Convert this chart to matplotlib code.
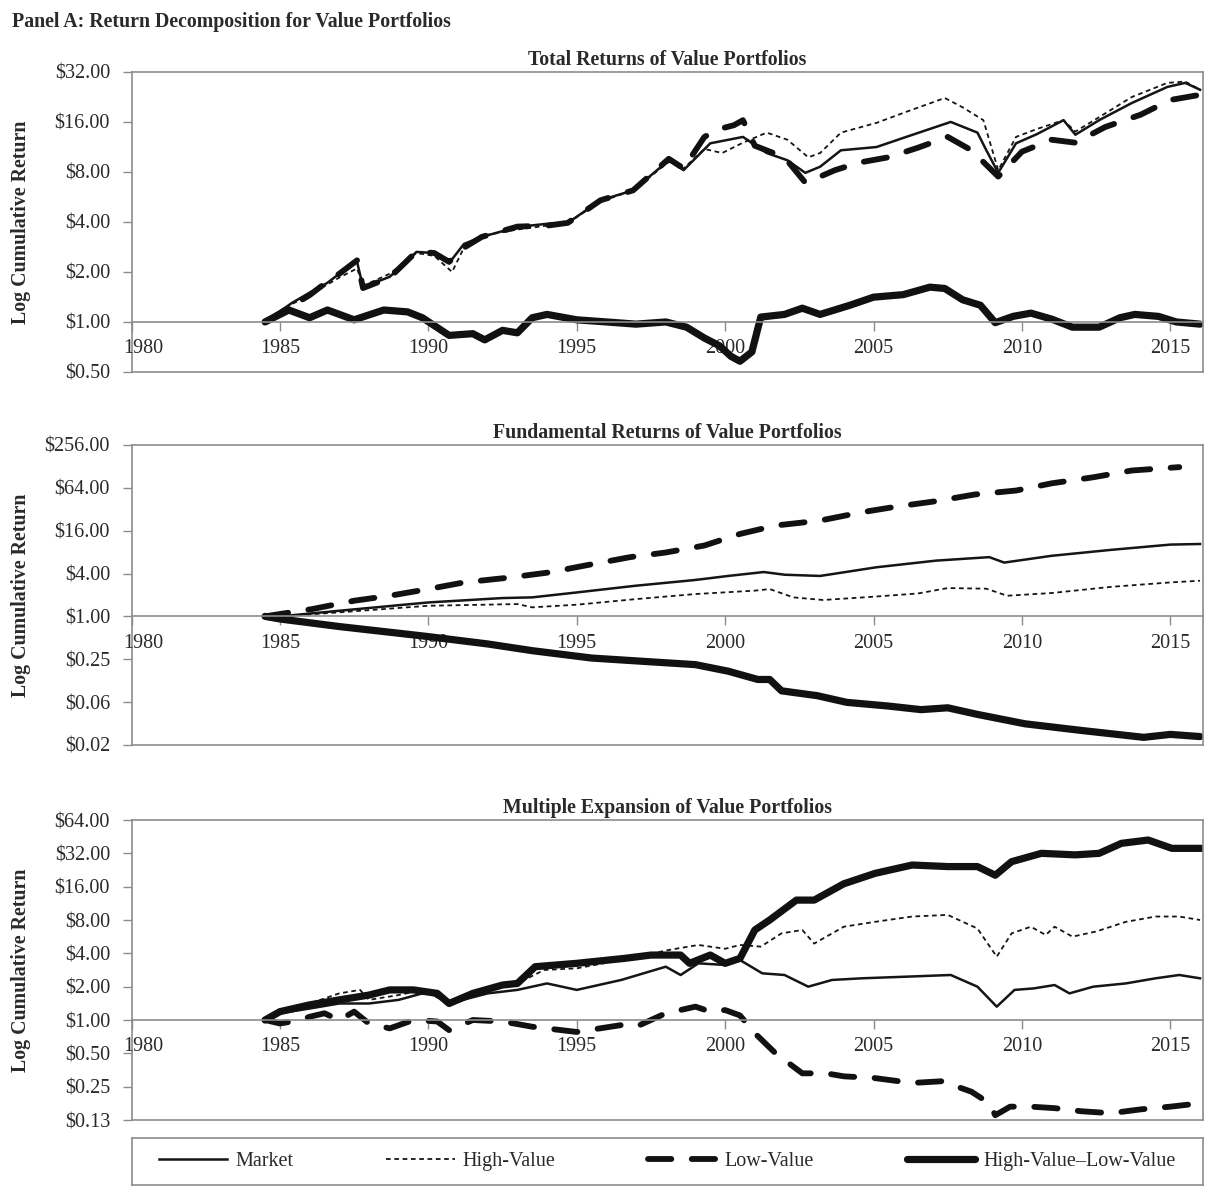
import matplotlib
matplotlib.use('Agg')
import matplotlib.pyplot as plt
from matplotlib.lines import Line2D

plt.rcParams['font.family'] = ['Liberation Serif', 'DejaVu Serif']

# ---- Total returns (panel 1) ----
tot_mkt_x = [1984.5, 1985.4, 1986.0, 1986.6, 1987.0, 1987.6, 1987.8, 1988.7, 1989.6, 1990.2, 1990.7,
             1991.2, 1991.8, 1993.0, 1994.0, 1994.7, 1995.8, 1996.9, 1998.1, 1998.6, 1999.5, 2000.6,
             2001.4, 2002.1, 2002.7, 2003.2, 2003.9, 2005.1, 2006.1, 2007.6, 2008.5, 2008.8, 2009.2,
             2009.8, 2010.5, 2011.4, 2011.8, 2012.6, 2013.7, 2014.9, 2015.5, 2016.0]
tot_mkt_y = [1.0, 1.30, 1.5, 1.72, 1.95, 2.30, 1.62, 1.87, 2.64, 2.6, 2.26,
             2.95, 3.25, 3.73, 3.9, 3.95, 5.4, 6.2, 9.4, 8.2, 11.9, 13.0,
             10.4, 9.4, 7.9, 8.6, 10.8, 11.3, 13.0, 16.0, 13.8, 10.8, 7.9,
             11.9, 13.5, 16.4, 13.4, 16.4, 20.8, 26.0, 27.5, 25.0]

tot_hv_x = [1984.5, 1985.4, 1986.0, 1986.6, 1987.0, 1987.6, 1987.8, 1988.7, 1989.6, 1990.2, 1990.8,
            1991.2, 1991.8, 1993.0, 1994.0, 1994.7, 1995.8, 1996.9, 1998.1, 1998.6, 1999.3, 1999.9,
            2000.6, 2001.4, 2002.1, 2002.8, 2003.2, 2003.9, 2005.1, 2006.1, 2007.4, 2008.0, 2008.7,
            2009.2, 2009.8, 2010.5, 2011.4, 2011.8, 2012.6, 2013.7, 2014.9, 2015.5, 2016.0]
tot_hv_y = [1.0, 1.28, 1.45, 1.68, 1.85, 2.1, 1.65, 1.95, 2.6, 2.5, 2.0,
            2.8, 3.3, 3.6, 3.8, 3.95, 5.3, 6.2, 9.2, 8.4, 11.0, 10.4,
            12.0, 13.8, 12.5, 9.8, 10.4, 13.8, 15.8, 18.4, 22.3, 19.6, 16.4,
            8.2, 13.0, 14.5, 16.4, 14.0, 17.1, 22.6, 27.5, 28.0, 25.0]

tot_lv_x = [1984.5, 1985.4, 1986.0, 1986.6, 1987.0, 1987.6, 1987.8, 1988.7, 1989.6, 1990.2, 1990.7,
            1991.2, 1991.8, 1993.0, 1994.0, 1994.7, 1995.8, 1996.9, 1998.1, 1998.6, 1999.3, 1999.8,
            2000.3, 2000.6, 2001.0, 2002.0, 2002.7, 2003.2, 2003.7, 2004.5, 2005.5, 2006.5, 2007.5,
            2008.3, 2009.2, 2010.0, 2011.0, 2011.8, 2012.8, 2014.0, 2015.0, 2016.0]
tot_lv_y = [1.0, 1.25, 1.45, 1.75, 1.95, 2.35, 1.6, 1.85, 2.65, 2.6, 2.3,
            2.8, 3.25, 3.75, 3.8, 3.95, 5.4, 6.2, 9.6, 8.4, 13.0, 14.5,
            15.3, 16.4, 11.5, 9.8, 6.9, 7.5, 8.2, 9.1, 9.8, 11.2, 13.0,
            10.8, 7.5, 10.6, 12.5, 12.0, 14.9, 17.7, 21.7, 23.3]

tot_hml_x = [1984.5, 1985.3, 1986.0, 1986.6, 1987.5, 1988.5, 1989.3, 1989.8, 1990.7, 1991.5, 1991.9,
             1992.5, 1993.0, 1993.5, 1994.0, 1995.0, 1996.0, 1997.0, 1998.0, 1998.7, 1999.3, 1999.8,
             2000.2, 2000.5, 2000.9, 2001.2, 2002.0, 2002.6, 2003.2, 2004.2, 2005.0, 2006.0, 2006.9,
             2007.4, 2008.0, 2008.6, 2009.1, 2009.7, 2010.3, 2011.0, 2011.7, 2012.6, 2013.3, 2013.8,
             2014.6, 2015.2, 2016.0]
tot_hml_y = [1.0, 1.18, 1.06, 1.18, 1.03, 1.18, 1.15, 1.06, 0.83, 0.85, 0.78,
             0.89, 0.86, 1.06, 1.11, 1.03, 1.0, 0.97, 1.0, 0.93, 0.8, 0.72,
             0.62, 0.58, 0.66, 1.07, 1.11, 1.21, 1.11, 1.26, 1.41, 1.46, 1.62,
             1.59, 1.36, 1.26, 0.99, 1.08, 1.13, 1.04, 0.93, 0.93, 1.06, 1.11,
             1.08, 1.0, 0.97]

# ---- Fundamental returns (panel 2) ----
fund_mkt_x = [1984.5, 1985.0, 1987.0, 1990.0, 1992.5, 1993.5, 1995.0, 1997.0, 1999.0, 2000.1, 2001.3,
              2002.0, 2003.2, 2005.1, 2007.1, 2008.9, 2009.4, 2011.0, 2013.0, 2015.0, 2016.0]
fund_mkt_y = [1.0, 1.0, 1.2, 1.57, 1.81, 1.85, 2.17, 2.7, 3.25, 3.7, 4.2,
              3.85, 3.7, 4.9, 6.07, 6.8, 5.7, 7.1, 8.6, 10.2, 10.4]

fund_hv_x = [1984.5, 1985.0, 1987.0, 1990.0, 1993.0, 1993.5, 1995.0, 1997.0, 1999.0, 2001.0, 2001.5,
             2002.3, 2003.3, 2005.0, 2006.5, 2007.5, 2008.8, 2009.5, 2011.0, 2013.0, 2015.0, 2016.0]
fund_hv_y = [1.0, 1.0, 1.14, 1.41, 1.49, 1.34, 1.46, 1.75, 2.06, 2.3, 2.42,
             1.85, 1.7, 1.89, 2.1, 2.5, 2.45, 1.95, 2.13, 2.6, 3.0, 3.17]

fund_lv_x = [1984.5, 1985.0, 1986.1, 1987.5, 1988.7, 1990.0, 1991.2, 1992.7, 1994.1, 1995.3, 1996.8,
             1998.0, 1999.3, 2000.5, 2001.7, 2003.2, 2004.6, 2005.8, 2007.1, 2008.4, 2009.8, 2011.0,
             2012.4, 2013.7, 2015.3]
fund_lv_y = [1.0, 1.08, 1.27, 1.66, 1.95, 2.42, 3.0, 3.5, 4.16, 5.2, 6.8,
             7.9, 9.9, 14.4, 18.9, 22.2, 29, 35, 41.5, 51.5, 58.6, 74,
             90, 112, 125]

fund_hml_x = [1984.5, 1985.0, 1987.0, 1989.0, 1990.0, 1992.0, 1993.5, 1995.5, 1997.5, 1999.0, 2000.1,
              2001.1, 2001.5, 2001.9, 2003.1, 2004.1, 2005.5, 2006.6, 2007.5, 2008.5, 2010.1, 2012.0,
              2014.1, 2015.0, 2016.0]
fund_hml_y = [1.0, 0.92, 0.72, 0.58, 0.52, 0.41, 0.33, 0.26, 0.23, 0.21, 0.17,
              0.13, 0.13, 0.09, 0.077, 0.062, 0.055, 0.049, 0.052, 0.042, 0.031, 0.025,
              0.020, 0.022, 0.0205]

# ---- Multiple expansion (panel 3) ----
me_mkt_x = [1984.5, 1985.0, 1986.0, 1987.0, 1988.0, 1989.0, 1990.0, 1990.7, 1992.0, 1993.0, 1994.0,
            1995.0, 1996.5, 1998.0, 1998.5, 1999.1, 2000.0, 2000.5, 2001.25, 2002.0, 2002.8, 2003.6,
            2004.6, 2006.05, 2007.6, 2008.5, 2009.15, 2009.75, 2010.4, 2011.1, 2011.6, 2012.4, 2013.5,
            2014.5, 2015.3, 2016.0]
me_mkt_y = [1.0, 1.15, 1.27, 1.41, 1.41, 1.52, 1.8, 1.41, 1.74, 1.87, 2.14,
            1.87, 2.3, 3.03, 2.55, 3.25, 3.14, 3.48, 2.64, 2.55, 2.0, 2.3,
            2.38, 2.46, 2.55, 2.0, 1.32, 1.87, 1.93, 2.07, 1.74, 2.0, 2.14,
            2.38, 2.55, 2.38]

me_hv_x = [1984.5, 1985.0, 1986.0, 1987.0, 1987.7, 1988.0, 1989.0, 1989.8, 1990.7, 1992.0, 1993.0,
           1993.9, 1995.0, 1996.5, 1998.1, 1999.1, 2000.0, 2000.5, 2001.2, 2001.9, 2002.6, 2003.0,
           2004.0, 2005.05, 2006.3, 2007.5, 2008.5, 2009.15, 2009.65, 2010.3, 2010.8, 2011.1, 2011.7,
           2012.5, 2013.5, 2014.5, 2015.3, 2016.0]
me_hv_y = [1.0, 1.19, 1.41, 1.74, 1.87, 1.52, 1.68, 1.87, 1.41, 1.93, 2.14,
           2.83, 2.93, 3.48, 4.29, 4.76, 4.4, 4.76, 4.6, 6.06, 6.5, 4.9,
           6.96, 7.7, 8.6, 8.9, 6.7, 3.73, 6.06, 6.96, 5.86, 6.96, 5.66,
           6.3, 7.7, 8.6, 8.6, 8.0]

me_lv_x = [1984.5, 1985.0, 1985.7, 1986.0, 1986.5, 1987.0, 1987.5, 1988.0, 1988.7, 1989.5, 1990.3,
           1990.7, 1991.5, 1992.5, 1993.5, 1995.0, 1996.5, 1997.0, 1998.0, 1999.0, 1999.5, 2000.0,
           2000.5, 2001.0, 2001.7, 2002.6, 2003.4, 2004.0, 2005.0, 2006.3, 2007.3, 2008.3, 2008.9,
           2009.1, 2009.6, 2010.3, 2011.1, 2012.0, 2013.0, 2014.0, 2015.0, 2016.0]
me_lv_y = [1.0, 0.93, 1.0, 1.07, 1.15, 1.0, 1.19, 0.93, 0.84, 1.0, 0.97,
           0.81, 1.0, 0.97, 0.87, 0.78, 0.9, 0.87, 1.15, 1.32, 1.19, 1.23,
           1.1, 0.76, 0.5, 0.33, 0.33, 0.31, 0.30, 0.27, 0.28, 0.225, 0.177,
           0.138, 0.165, 0.165, 0.16, 0.15, 0.144, 0.156, 0.165, 0.177]

me_hml_x = [1984.5, 1985.0, 1986.0, 1987.0, 1988.0, 1988.7, 1989.5, 1990.3, 1990.7, 1991.5, 1992.5,
            1993.0, 1993.6, 1995.0, 1996.6, 1997.5, 1998.5, 1998.8, 1999.5, 2000.0, 2000.5, 2001.0,
            2001.5, 2002.4, 2003.0, 2004.0, 2005.05, 2006.3, 2007.5, 2008.5, 2009.1, 2009.65, 2010.65,
            2011.8, 2012.6, 2013.35, 2014.25, 2015.05, 2016.05]
me_hml_y = [1.0, 1.19, 1.37, 1.52, 1.68, 1.87, 1.87, 1.74, 1.41, 1.74, 2.07,
            2.14, 3.03, 3.25, 3.6, 3.86, 3.86, 3.25, 3.86, 3.25, 3.6, 6.5,
            8.0, 12.1, 12.1, 17.0, 21.1, 25.1, 24.3, 24.3, 20.3, 26.9, 32.0,
            31.0, 32.0, 39.4, 42.2, 35.5, 35.5]

# axis ticks / labels
years = [1980, 1985, 1990, 1995, 2000, 2005, 2010, 2015]
tot_ticks = [0.5, 1, 2, 4, 8, 16, 32]
tot_labels = ['$0.50', '$1.00', '$2.00', '$4.00', '$8.00', '$16.00', '$32.00']
fund_ticks = [0.015625, 0.0625, 0.25, 1, 4, 16, 64, 256]
fund_labels = ['$0.02', '$0.06', '$0.25', '$1.00', '$4.00', '$16.00', '$64.00', '$256.00']
me_ticks = [0.125, 0.25, 0.5, 1, 2, 4, 8, 16, 32, 64]
me_labels = ['$0.13', '$0.25', '$0.50', '$1.00', '$2.00', '$4.00', '$8.00', '$16.00', '$32.00', '$64.00']

gray = '#8c8c8c'
txt = '#2a2a2a'
fs = 14.5

styles = {
    'mkt': dict(color='#151515', lw=1.8, ls='-'),
    'hv': dict(color='#151515', lw=1.3, ls=(0, (2.6, 2.0))),
    'lv': dict(color='#111111', lw=4.2, ls=(0, (4.0, 3.5)), dash_capstyle='round'),
    'hml': dict(color='#111111', lw=5.2, ls='-', solid_capstyle='round'),
}

fig = plt.figure(figsize=(12.12, 11.91), dpi=100)
L, W, H = 0.1085, 0.8841, 0.2519
panels = [
    (0.6877, 'Total Returns of Value Portfolios', tot_ticks, tot_labels,
     [(tot_mkt_x, tot_mkt_y), (tot_hv_x, tot_hv_y), (tot_lv_x, tot_lv_y), (tot_hml_x, tot_hml_y)]),
    (0.3745, 'Fundamental Returns of Value Portfolios', fund_ticks, fund_labels,
     [(fund_mkt_x, fund_mkt_y), (fund_hv_x, fund_hv_y), (fund_lv_x, fund_lv_y), (fund_hml_x, fund_hml_y)]),
    (0.0596, 'Multiple Expansion of Value Portfolios', me_ticks, me_labels,
     [(me_mkt_x, me_mkt_y), (me_hv_x, me_hv_y), (me_lv_x, me_lv_y), (me_hml_x, me_hml_y)]),
]

for bottom, title, yt, yl, series in panels:
    ax = fig.add_axes([L, bottom, W, H])
    ax.set_yscale('log', base=2)
    ax.set_ylim(yt[0], yt[-1])
    ax.set_xlim(1980, 2016.1)
    for (xs, ys), key in zip(series, ['mkt', 'hv', 'lv', 'hml']):
        ax.plot(xs, ys, **styles[key])
    ax.set_yticks(yt)
    ax.set_yticklabels(yl)
    ax.minorticks_off()
    ax.set_xticks(years)
    ax.set_xticklabels([''] + [str(y) for y in years[1:]])
    ax.annotate('1980', xy=(1980, 1), xycoords='data', xytext=(8.3, -12.5), textcoords='offset points',
                ha='center', va='top', fontsize=fs, color=txt)
    ax.spines['bottom'].set_position(('data', 1))
    for s in ax.spines.values():
        s.set_color(gray)
        s.set_linewidth(1.2)
    ax.plot([0, 1], [0, 0], transform=ax.transAxes, color=gray, lw=1.2, clip_on=False)
    ax.tick_params(axis='both', colors=gray, labelcolor=txt, labelsize=fs, length=6.5, width=1)
    ax.tick_params(axis='x', pad=6)
    ax.tick_params(axis='y', pad=9)
    ax.set_ylabel('Log Cumulative Return', fontsize=14.3, fontweight='bold', color=txt)
    ax.yaxis.set_label_coords(-0.094, 0.5)
    ax.set_title(title, fontsize=14.3, fontweight='bold', color=txt, pad=5)

fig.text(0.01, 1 - 22 / 1191, 'Panel A: Return Decomposition for Value Portfolios',
         fontsize=14.3, fontweight='bold', color=txt, ha='left', va='center')

# legend box
lax = fig.add_axes([L, 0.0050, W, 0.0395])
lax.set_xticks([])
lax.set_yticks([])
for s in lax.spines.values():
    s.set_color(gray)
    s.set_linewidth(1.2)
handles = [Line2D([], [], **styles[k]) for k in ['mkt', 'hv', 'lv', 'hml']]
names = ['Market', 'High-Value', 'Low-Value', 'High-Value\u2013Low-Value']
lax.legend(handles, names, ncol=4, loc='center', frameon=False, fontsize=fs,
           handlelength=3.4, handletextpad=0.4, columnspacing=4.6,
           labelcolor=txt)

fig.savefig('out.png', dpi=100)
